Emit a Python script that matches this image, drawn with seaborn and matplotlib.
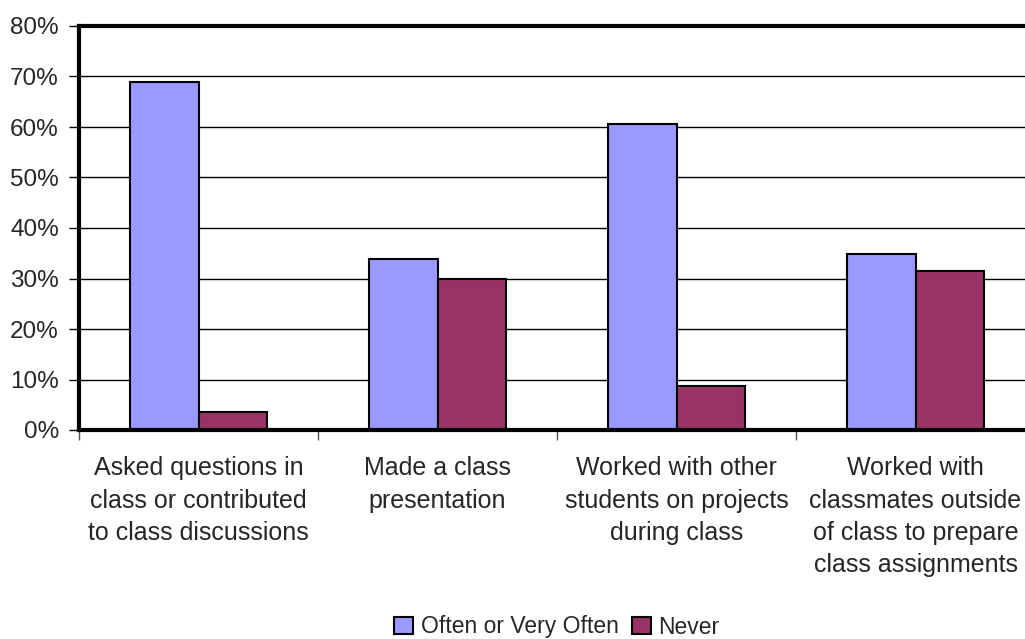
import matplotlib
matplotlib.use("Agg")
import matplotlib.pyplot as plt
import seaborn as sns
import pandas as pd
from matplotlib.ticker import FixedLocator, PercentFormatter
from matplotlib.patches import Patch

categories = [
    "Asked questions in\nclass or contributed\nto class discussions",
    "Made a class\npresentation",
    "Worked with other\nstudents on projects\nduring class",
    "Worked with\nclassmates outside\nof class to prepare\nclass assignments",
]
series_names = ["Often or Very Often", "Never"]
often_values = [68.9, 33.9, 60.6, 34.8]
never_values = [3.6, 30.0, 8.7, 31.5]
colors = ["#9999FF", "#993366"]

df = pd.DataFrame({
    "category": categories * 2,
    "series": [series_names[0]] * 4 + [series_names[1]] * 4,
    "value": often_values + never_values,
})

sns.set_style("white")
plt.rcParams["font.family"] = ["Liberation Sans", "DejaVu Sans"]

fig = plt.figure(figsize=(10.25, 6.39), dpi=100)
ax = fig.add_axes([79 / 1025, 1 - 430 / 639, 956 / 1025, 404 / 639])

sns.barplot(data=df, x="category", y="value", hue="series", order=categories,
            hue_order=series_names, palette=colors, width=0.57, ax=ax,
            edgecolor="black", linewidth=1.5, saturation=1, legend=False)

ax.set_xlim(-0.5, 3.5)
ax.set_ylim(0, 80)
ax.set_yticks(range(0, 81, 10))
ax.yaxis.set_major_formatter(PercentFormatter(decimals=0))
ax.yaxis.grid(True, color="black", linewidth=1)
ax.set_axisbelow(True)
ax.set_xlabel("")
ax.set_ylabel("")

for side in ["left", "top", "bottom"]:
    ax.spines[side].set_visible(True)
    ax.spines[side].set_color("black")
    ax.spines[side].set_linewidth(3)
ax.spines["right"].set_visible(False)

ax.tick_params(axis="y", which="major", length=7, width=1, color="black",
               labelsize=17.5, pad=7.5, left=True, direction="out")
ax.tick_params(axis="x", which="major", length=0, labelsize=18, pad=19)
for lbl in ax.get_xticklabels():
    lbl.set_linespacing(1.44)
ax.xaxis.set_minor_locator(FixedLocator([-0.5, 0.5, 1.5, 2.5]))
ax.tick_params(axis="x", which="minor", length=7, width=1, color="#555555",
               bottom=True, direction="out")

handles = [Patch(facecolor=c, edgecolor="black", linewidth=1.5) for c in colors]
fig.legend(handles, series_names, loc="center", bbox_to_anchor=(557 / 1025, 1 - 627 / 639),
           ncol=2, frameon=False, fontsize=16.5, handlelength=0.8, handleheight=0.8,
           handletextpad=0.35, columnspacing=0.6, borderpad=0.1)

fig.savefig("out.png", dpi=100)
